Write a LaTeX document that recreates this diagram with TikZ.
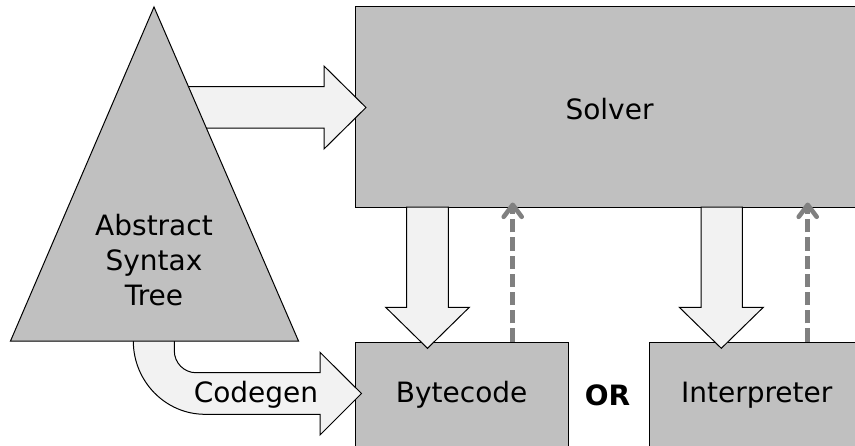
\documentclass[tikz,border=0pt]{standalone}
\usepackage{fontspec}
\setmainfont{DejaVu Sans}
\usetikzlibrary{arrows.meta,positioning}
\definecolor{boxgray}{RGB}{192,192,192}
\definecolor{arrowfill}{RGB}{242,242,242}
\definecolor{dashgray}{RGB}{128,128,128}
\tikzset{
  stage/.style={draw=black,line width=0.5pt,fill=boxgray,inner sep=0pt},
  bigarrow/.style={draw=black,line width=0.5pt,fill=arrowfill,line join=miter},
  feedback/.style={draw=dashgray,line width=2.3pt,dash pattern=on 6.6pt off 2.5pt,
    -{Straight Barb[length=6pt,width=9pt,round]},shorten >=-2.5pt}
}
\begin{document}
\begin{tikzpicture}[x=0.5pt,y=-0.5pt,font=\fontsize{14}{17.3}\selectfont]
	\useasboundingbox (0,0) rectangle (855,445);
	\clip (0,0) rectangle (855,445);
	% boxes
	\node[stage,minimum width=254.5pt,minimum height=100.25pt] (solver) at (609.5,106.75) {};
	\node (solvertext) at (609.5,109) {Solver};
	\node[stage,minimum width=106.65pt,minimum height=53pt] (bytecode) at (461.7,395) {Bytecode};
	\node[stage,minimum width=107.35pt,minimum height=53pt] (interp) at (756.7,395) {Interpreter};
	\node[font=\fontsize{14}{17.3}\selectfont\bfseries] (or) at (607.5,395) {OR};
	% block arrows
	\draw[bigarrow] (170,86.7) -- (324,86.7) -- (324,66) -- (366,107.5) -- (324,149) -- (324,128) -- (170,128) -- cycle;
	\draw[bigarrow] (406.7,207) -- (406.7,307.3) -- (385.7,307.3) -- (427.5,348.3) -- (469.3,307.3) -- (448.3,307.3) -- (448.3,207) -- cycle;
	\draw[bigarrow] (701,207) -- (701,307.3) -- (679.3,307.3) -- (721.3,348.3) -- (763.3,307.3) -- (742.3,307.3) -- (742.3,207) -- cycle;
	\draw[bigarrow] (133.3,330) -- (133.3,341) .. controls (133.3,381.3) and (165.4,414.3) .. (205,414.3)
		-- (320,414.3) -- (320,435) -- (361.5,393.5) -- (320,352.3) -- (320,372.7) -- (196,372.7)
		.. controls (184,372.7) and (174.3,362.8) .. (174.3,350.7) -- (174.3,330) -- cycle;
	\node (codegen) at (256,395) {Codegen};
	% dashed feedback
	\draw[feedback] ([xshift=25.5pt]bytecode.north) -- ([xshift=25.5pt]bytecode.north |- solver.south);
	\draw[feedback] ([xshift=25.5pt]interp.north) -- ([xshift=25.5pt]interp.north |- solver.south);
	% tree
	\draw[line width=0.5pt,fill=boxgray] (154,7) -- (10.5,341) -- (298.5,341) -- cycle;
	\node[align=center] (ast) at (154,260) {Abstract\\Syntax\\Tree};
\end{tikzpicture}
\end{document}
